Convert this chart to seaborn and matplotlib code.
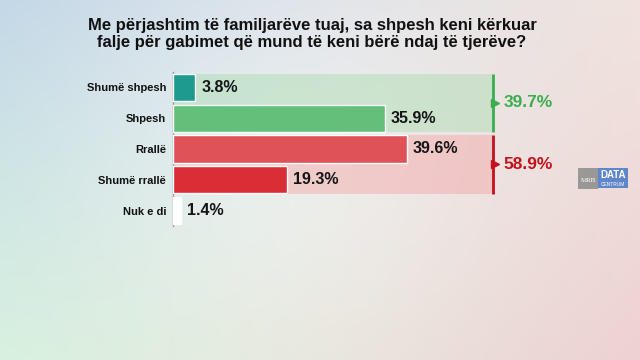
import numpy as np
import pandas as pd
import matplotlib
matplotlib.use("Agg")
import matplotlib.pyplot as plt
from matplotlib.patches import Rectangle
import seaborn as sns

title = "Me përjashtim të familjarëve tuaj, sa shpesh keni kërkuar\nfalje për gabimet që mund të keni bërë ndaj të tjerëve?"
categories = ["Shumë shpesh", "Shpesh", "Rrallë", "Shumë rrallë", "Nuk e di"]
values = [3.8, 35.9, 39.6, 19.3, 1.4]
bar_colors = ["#1f9a8f", "#62c07a", "#df5258", "#da2e36", "#ffffff"]
group_labels = ["39.7%", "58.9%"]
group_rows = [(0, 1), (2, 3)]
group_extent = 54.2
group_line_colors = ["#3aae4e", "#c3121c"]
group_box_colors = ["#a8dcae", "#f4a3a3"]

sns.set_theme(style="white")
plt.rcParams["font.family"] = ["Liberation Sans", "DejaVu Sans"]

W, H = 640, 360
fig = plt.figure(figsize=(W / 100, H / 100), dpi=100)

# background gradient
bg = fig.add_axes([0, 0, 1, 1], zorder=-10)
yy, xx = np.mgrid[0:1:H * 1j, 0:1:W * 1j]
tl = np.array([0.76, 0.84, 0.90])
bl = np.array([0.84, 0.94, 0.87])
tr = np.array([0.94, 0.89, 0.87])
br = np.array([0.93, 0.82, 0.82])
img = ((1 - xx)[..., None] * (1 - yy)[..., None] * tl + (1 - xx)[..., None] * yy[..., None] * bl
       + xx[..., None] * (1 - yy)[..., None] * tr + xx[..., None] * yy[..., None] * br)
d = np.sqrt((xx - 0.45) ** 2 + ((yy - 0.45) * 0.56) ** 2)
img = img + (0.06 * np.exp(-(d / 0.35) ** 2))[..., None]
bg.imshow(np.clip(img, 0, 1), aspect="auto", extent=[0, W, H, 0])
bg.set_xlim(0, W)
bg.set_ylim(H, 0)
bg.axis("off")

# main axes
ax_left, ax_right = 173, 640
ax_top, ax_bot = 72, 226
ax = fig.add_axes([ax_left / W, (H - ax_bot) / H, (ax_right - ax_left) / W, (ax_bot - ax_top) / H])
ax.patch.set_alpha(0)
px_per_pct = 5.9
ax.set_xlim(0, (ax_right - ax_left) / px_per_pct)
row = 29.0
ax.set_ylim(4 + (ax_bot - 206) / row, (ax_top - 90) / row)

df = pd.DataFrame({"cat": categories, "val": values})
sns.barplot(data=df, x="val", y="cat", hue="cat", palette=bar_colors, legend=False,
            orient="h", width=0.88, ax=ax, saturation=1, zorder=3)

for i, (r0, r1) in enumerate(group_rows):
    y0 = r0 - 0.45
    y1 = r1 + 0.45
    ax.add_patch(Rectangle((0, y0), group_extent, y1 - y0, facecolor=group_box_colors[i],
                           alpha=0.45, edgecolor="none", zorder=1))
    ax.plot([group_extent, group_extent], [y0, y1], color=group_line_colors[i], lw=2,
            solid_capstyle="butt", zorder=4)
    ym = (r0 + r1) / 2
    ax.plot([group_extent + 0.35], [ym], marker=">", markersize=6, color=group_line_colors[i],
            zorder=4, clip_on=False)
    ax.text(group_extent + 1.8, ym, group_labels[i], color=group_line_colors[i], fontsize=12.5,
            fontweight="bold", ha="left", va="center", zorder=5)

for i, v in enumerate(values):
    ax.text(v + 1.0, i, f"{v:.1f}%", fontsize=11.5, fontweight="bold", color="#151515",
            ha="left", va="center", zorder=5)

ax.set_xlabel("")
ax.set_ylabel("")
ax.set_xticks([])
ax.tick_params(axis="y", length=0, pad=5)
for lab in ax.get_yticklabels():
    lab.set_fontweight("bold")
    lab.set_fontsize(8)
    lab.set_color("#111111")
for s in ["top", "right", "bottom"]:
    ax.spines[s].set_visible(False)
ax.spines["left"].set_color("#9a9a9a")
ax.spines["left"].set_linewidth(1)

fig.text(312 / W, 1 - 34 / H, title, ha="center", va="center", fontsize=12,
         fontweight="bold", color="#111111", linespacing=1.2)

# logo
lg = fig.add_axes([0, 0, 1, 1], zorder=5)
lg.set_xlim(0, W)
lg.set_ylim(H, 0)
lg.axis("off")
lg.patch.set_alpha(0)
lg.add_patch(Rectangle((578, 168), 20, 21, facecolor="#8c8c8c", edgecolor="none", alpha=0.85))
lg.add_patch(Rectangle((598, 168), 30, 20, facecolor="#5f86c8", edgecolor="none"))
lg.text(588, 180, "MRB", fontsize=5, color="white", ha="center", va="center", family="Liberation Serif")
lg.text(613, 175.5, "DATA", fontsize=7, color="white", ha="center", va="center", fontweight="bold")
lg.text(613, 184, "CENTRUM", fontsize=3.5, color="white", ha="center", va="center")

fig.savefig("out.png", dpi=100)
